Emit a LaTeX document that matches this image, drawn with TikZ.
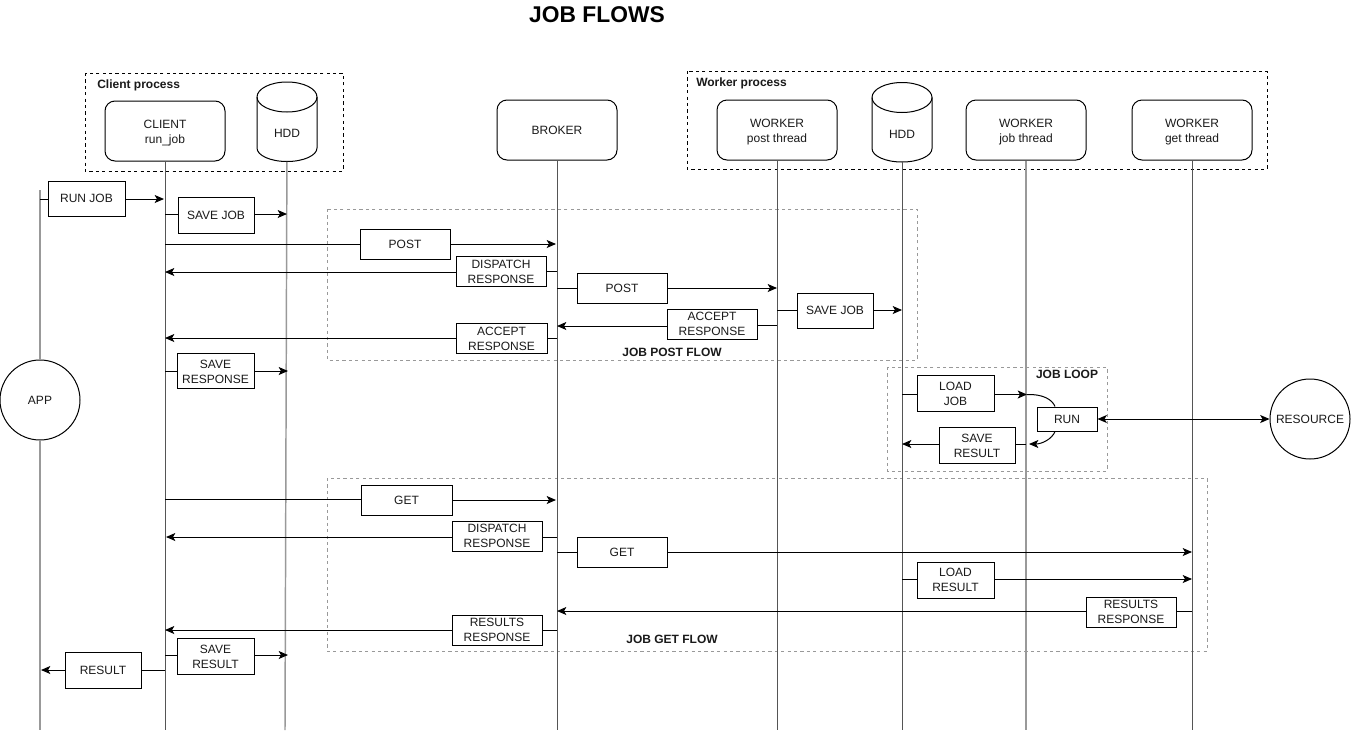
\documentclass[tikz,border=0pt]{standalone}
\usepackage{fontspec}
\setmainfont{Liberation Sans}
\usetikzlibrary{arrows.meta,calc}
\definecolor{ink}{HTML}{1A1A1A}
\definecolor{lifedark}{HTML}{555555}
\definecolor{lifelight}{HTML}{999999}
\definecolor{framegrey}{HTML}{999999}
\tikzset{
  x=0.75pt,y=-0.75pt,
  every node/.style={font=\fontsize{9}{11.25}\selectfont,text=ink,align=center,inner sep=0pt},
  tip/.style={-{Stealth[length=7pt,width=6pt,inset=1.7pt]}},
  link/.style={draw=black,line width=0.75pt},
  msgbox/.style={draw=black,fill=white,line width=0.75pt},
  headbox/.style={draw=black,fill=white,line width=0.75pt,rounded corners=7.5pt,minimum width=90pt,minimum height=45pt},
  roundnode/.style={circle,draw=black,fill=white,line width=0.75pt,minimum size=60pt},
  lifeline/.style={draw=lifedark,line width=0.75pt},
  softlifeline/.style={draw=lifelight,line width=1.1pt},
  procframe/.style={draw=black,line width=0.75pt,dash pattern=on 2.4pt off 2.4pt},
  flowframe/.style={draw=framegrey,line width=0.6pt,dash pattern=on 2.4pt off 2.4pt},
  framelabel/.style={font=\fontsize{9}{11}\selectfont\bfseries},
  hddbody/.pic={
    \path[draw=black,fill=white,line width=0.75pt]
      (-30,97) .. controls (-30,88.7) and (-16.5,82) .. (0,82)
      .. controls (16.5,82) and (30,88.7) .. (30,97)
      -- (30,148) .. controls (30,155.5) and (16.5,161.5) .. (0,161.5)
      .. controls (-16.5,161.5) and (-30,155.5) .. (-30,148) -- cycle;
    \path[draw=black,line width=0.75pt]
      (-30,97) .. controls (-30,105.3) and (-16.5,112) .. (0,112)
      .. controls (16.5,112) and (30,105.3) .. (30,97);
  },
}
% strut lowering two-line text by one or two pixels
\newcommand{\dnone}{\rule{0pt}{8.1pt}}
\newcommand{\dntwo}{\rule{0pt}{9.6pt}}
% name, source, target, box centre, width, height, text: left to right
\newcommand{\msgR}[7]{%
  \coordinate (#1s) at (#2);
  \coordinate (#1t) at (#3);
  \node[msgbox,minimum width=#5*0.75pt,minimum height=#6*0.75pt] (#1) at (#4) {#7};
  \draw[link] (#1s) -- (#1s -| #1.west);
  \draw[link,tip] (#1t -| #1.east) -- (#1t);
}
% the same, right to left
\newcommand{\msgL}[7]{%
  \coordinate (#1s) at (#2);
  \coordinate (#1t) at (#3);
  \node[msgbox,minimum width=#5*0.75pt,minimum height=#6*0.75pt] (#1) at (#4) {#7};
  \draw[link] (#1s) -- (#1s -| #1.east);
  \draw[link,tip] (#1t -| #1.west) -- (#1t);
}
\begin{document}
\begin{tikzpicture}
\useasboundingbox (0,0) rectangle (1351,732);
\fill[white] (0,0) rectangle (1351,732);

\node[font=\fontsize{17.1}{20}\selectfont\bfseries,text=black] (title) at (597,15) {JOB FLOWS};

% frames
\draw[procframe] (85,73) rectangle (343,171);
\draw[procframe] (687,71) rectangle (1267,169);
\draw[flowframe] (327,209) rectangle (917,360);
\draw[flowframe] (887,367) rectangle (1107,471);
\draw[flowframe] (327,478) rectangle (1207,651);
\node[framelabel,anchor=west] (clientproc) at (97,85) {Client process};
\node[framelabel,anchor=west] (workerproc) at (696,83) {Worker process};
\node[framelabel] (postflow) at (672,352) {JOB POST FLOW};
\node[framelabel] (loopflow) at (1067,374) {JOB LOOP};
\node[framelabel] (getflow) at (672,639) {JOB GET FLOW};

% head nodes
\node[headbox] (client) at (165,131) {\dntwo CLIENT\\run\_job};
\node[headbox] (broker) at (557,130) {BROKER};
\node[headbox] (wpost) at (777,130) {\dntwo WORKER\\post thread};
\node[headbox] (wjob) at (1026,130) {\dntwo WORKER\\job thread};
\node[headbox] (wget) at (1192,130) {\dntwo WORKER\\get thread};
\pic at (287,0) {hddbody};
\pic at (902,0.5) {hddbody};
\node[minimum width=45pt,minimum height=42pt] (hddc) at (287,133.5) {HDD};
\node[minimum width=45pt,minimum height=42pt] (hddw) at (902,134) {HDD};
\node[roundnode] (app) at (40,400) {APP};
\node[roundnode] (resource) at (1310,419) {RESOURCE};

% lifelines
\coordinate (appTop) at (40,190);
\coordinate (appEnd) at (40,730);
\coordinate (clientEnd) at (165,730);
\coordinate (hddcEnd) at (285,730);
\coordinate (brokerEnd) at (557,730);
\coordinate (wpostEnd) at (777,730);
\coordinate (hddwEnd) at (902,730);
\coordinate (wjobEnd) at (1026,730);
\coordinate (wgetEnd) at (1192,730);
\draw[softlifeline] (appTop) -- (app);
\draw[softlifeline] (app) -- (appEnd);
\draw[lifeline] (client) -- (clientEnd);
\draw[softlifeline] (hddc) -- (hddcEnd);
\draw[lifeline] (broker) -- (brokerEnd);
\draw[lifeline] (wpost) -- (wpostEnd);
\draw[lifeline] (hddw) -- (hddwEnd);
\draw[softlifeline] (wjob) -- (wjobEnd);
\draw[lifeline] (wget) -- (wgetEnd);

% messages
\msgR{runjob}{40,199}{164,199}{86.5,198.5}{77}{35}{RUN JOB}
\msgR{savejob}{165,214}{287,214}{216,215}{76}{36}{SAVE JOB}
\msgR{post}{165,244}{556,244}{405,244}{90}{30}{POST}
\msgL{dispatch}{557,271}{165,272}{501,271}{90}{30}{\dnone DISPATCH\\RESPONSE}
\msgR{postw}{557,288}{777,288}{622,288}{90}{30}{POST}
\msgR{savejobw}{777,310}{902,310}{835,310.5}{76}{35}{SAVE JOB}
\msgL{acceptw}{777,325}{557,326}{712,324}{90}{30}{ACCEPT\\RESPONSE}
\msgL{accept}{557,338}{165,338}{501.5,338}{91}{30}{\dnone ACCEPT\\RESPONSE}
\msgR{saveresp}{165,371}{288,371}{215.5,370.5}{77}{35}{\dnone SAVE\\RESPONSE}
\msgR{loadjob}{902,394.5}{1027,394.5}{955.5,393}{77}{36}{\dnone LOAD\\JOB}
\msgL{saveres}{1026,444}{902,444}{977,445}{76}{36}{\dnone SAVE\\RESULT}
\msgR{get}{165,499}{556,500}{406.5,500}{91}{30}{GET}
\msgL{dispatchg}{557,537}{166,537}{497,536}{90}{30}{DISPATCH\\RESPONSE}
\msgR{getw}{557,552}{1192,552}{622,552}{90}{30}{GET}
\msgR{loadres}{902,579}{1192,579}{955.5,580}{77}{36}{LOAD\\RESULT}
\msgL{resultsw}{1192,611}{557,611}{1131,612}{90}{30}{RESULTS\\RESPONSE}
\msgL{results}{557,630}{165,630}{497,630}{90}{30}{RESULTS\\RESPONSE}
\msgR{savefinal}{165,655}{288,655}{215.5,656}{77}{36}{\dnone SAVE\\RESULT}
\msgL{result}{165,670}{41,670}{103,670}{76}{36}{RESULT}

% run box
\node[msgbox,minimum width=45pt,minimum height=18pt] (run) at (1067,419) {RUN};
\draw[link] (loadjobt) .. controls (1042,394) and (1052,399) .. (run.north -| 1055,0);
\draw[link,tip] (run.south -| 1055,0) .. controls (1052,439) and (1042,444) .. (1029,444);
\draw[link,{Stealth[length=7pt,width=6pt,inset=1.7pt]}-{Stealth[length=7pt,width=6pt,inset=1.7pt]}] (run) -- (resource);
\end{tikzpicture}
\end{document}
